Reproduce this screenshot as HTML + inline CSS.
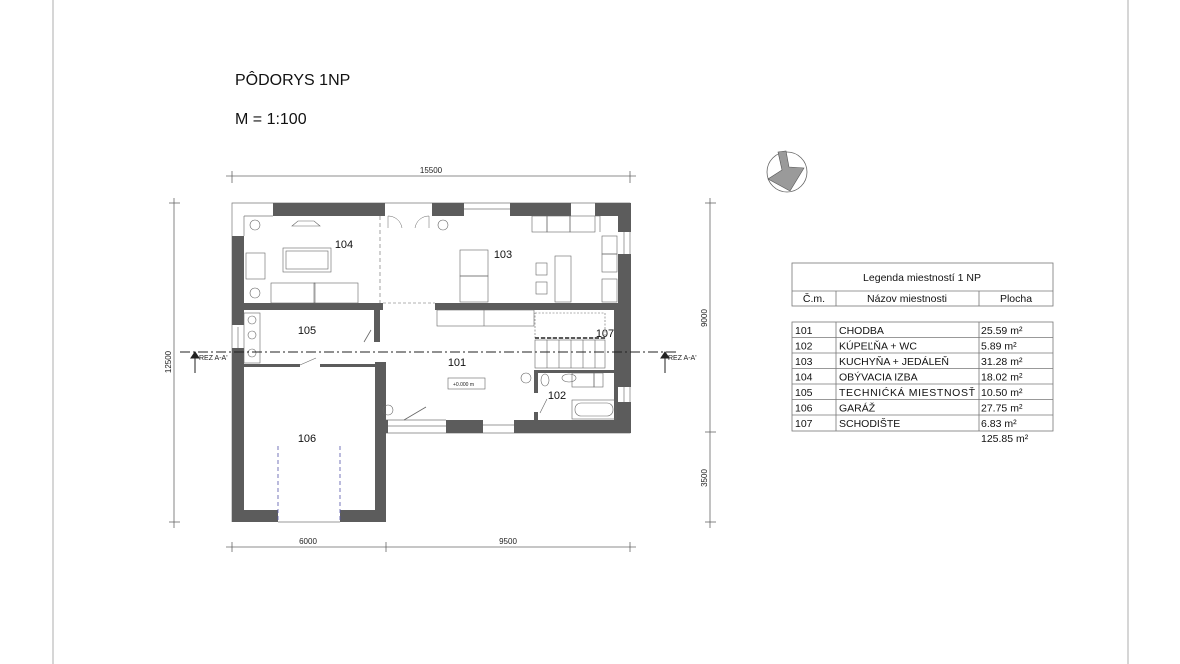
<!DOCTYPE html>
<html><head><meta charset="utf-8"><style>
html,body{margin:0;padding:0;background:#fff;}
svg{display:block;font-family:"Liberation Sans",sans-serif;}
</style></head><body>
<svg width="1180" height="664" viewBox="0 0 1180 664" xmlns="http://www.w3.org/2000/svg">
<rect width="1180" height="664" fill="#fff"/>
<line x1="53" y1="0" x2="53" y2="664" stroke="#bbb" stroke-width="1.2"/>
<line x1="1128" y1="0" x2="1128" y2="664" stroke="#bbb" stroke-width="1.2"/>
<text x="235" y="85" font-size="16" fill="#111">PÔDORYS 1NP</text>
<text x="235" y="124" font-size="16" fill="#111">M = 1:100</text>

<g stroke="#666" stroke-width="0.8" fill="none">
<line x1="226" y1="176" x2="636" y2="176"/>
<line x1="232" y1="171" x2="232" y2="183"/><line x1="630" y1="171" x2="630" y2="183"/>
<line x1="226" y1="547" x2="636" y2="547"/>
<line x1="232" y1="542" x2="232" y2="552"/><line x1="386" y1="542" x2="386" y2="552"/><line x1="630" y1="542" x2="630" y2="552"/>
<line x1="174" y1="198" x2="174" y2="528"/>
<line x1="169" y1="203" x2="180" y2="203"/><line x1="169" y1="522" x2="180" y2="522"/>
<line x1="710" y1="198" x2="710" y2="528"/>
<line x1="705" y1="203" x2="716" y2="203"/><line x1="705" y1="432" x2="716" y2="432"/><line x1="705" y1="522" x2="716" y2="522"/>
</g>
<g font-size="8" fill="#222">
<text x="431" y="173" text-anchor="middle">15500</text>
<text x="308" y="544" text-anchor="middle">6000</text>
<text x="508" y="544" text-anchor="middle">9500</text>
<text transform="translate(171,362) rotate(-90)" text-anchor="middle">12500</text>
<text transform="translate(707,318) rotate(-90)" text-anchor="middle">9000</text>
<text transform="translate(707,478) rotate(-90)" text-anchor="middle">3500</text>
</g>

<g stroke="#777" stroke-width="0.7" fill="none">
<path d="M232 522 L232 203 L630 203 L630 433 L386 433"/>
<line x1="244" y1="216" x2="244" y2="236"/><line x1="244" y1="216" x2="273" y2="216"/>
<line x1="278" y1="522" x2="340" y2="522"/>
<line x1="386" y1="420" x2="446" y2="420"/><line x1="386" y1="426" x2="446" y2="426"/>
<line x1="483" y1="425" x2="514" y2="425"/>
<line x1="464" y1="209" x2="510" y2="209"/>
<line x1="238" y1="327" x2="238" y2="348"/>
<line x1="624" y1="232" x2="624" y2="254"/><line x1="624" y1="387" x2="624" y2="402"/>
</g>

<g fill="#5c5c5c">
<rect x="273" y="203" width="112" height="13"/>
<rect x="432" y="203" width="32" height="13"/>
<rect x="510" y="203" width="61" height="13"/>
<rect x="595" y="203" width="36" height="13"/>
<rect x="618" y="203" width="13" height="29"/>
<rect x="618" y="254" width="13" height="133"/>
<rect x="618" y="402" width="13" height="31"/>
<rect x="232" y="236" width="12" height="89"/>
<rect x="232" y="348" width="12" height="174"/>
<rect x="446" y="420" width="37" height="13"/>
<rect x="514" y="420" width="117" height="13"/>
<rect x="375" y="362" width="11" height="160"/>
<rect x="375" y="420" width="13" height="13"/>
<rect x="232" y="510" width="46" height="12"/>
<rect x="340" y="510" width="46" height="12"/>
<rect x="244" y="303" width="139" height="7"/>
<rect x="435" y="303" width="183" height="7"/>
<rect x="374" y="310" width="6" height="32"/>
<rect x="244" y="364" width="56" height="3"/>
<rect x="320" y="364" width="60" height="3"/>
<rect x="534" y="370" width="84" height="3"/>
<rect x="534" y="370" width="4" height="23"/>
<rect x="534" y="412" width="4" height="8"/>
<rect x="614" y="310" width="4" height="110"/>
</g>

<g stroke="#666" stroke-width="0.6" fill="none">
<circle cx="255" cy="225" r="5"/><circle cx="255" cy="293" r="5"/><circle cx="443" cy="225" r="5"/><circle cx="526" cy="378" r="5"/><circle cx="388" cy="410" r="5"/>
<path d="M292 226 L298 221 L314 221 L320 226 Z"/>
<rect x="283" y="248" width="48" height="24"/><rect x="286" y="251" width="42" height="18"/>
<rect x="246" y="253" width="19" height="26"/>
<rect x="271" y="283" width="44" height="20"/><rect x="314" y="283" width="44" height="20"/>
<rect x="460" y="250" width="28" height="26"/><rect x="460" y="276" width="28" height="26"/>
<rect x="536" y="263" width="11" height="12"/><rect x="536" y="282" width="11" height="12"/>
<rect x="555" y="256" width="16" height="46"/>
<rect x="532" y="216" width="15" height="16"/><rect x="547" y="216" width="23" height="16"/><rect x="570" y="216" width="25" height="16"/>
<path d="M595 216 L600 216 L600 232"/>
<rect x="602" y="236" width="15" height="18"/><rect x="602" y="254" width="15" height="18"/><rect x="602" y="279" width="15" height="23"/>
<rect x="437" y="310" width="97" height="16"/><line x1="484" y1="310" x2="484" y2="326"/>
<rect x="244" y="313" width="16" height="50"/>
<circle cx="252" cy="320" r="4"/><circle cx="252" cy="335" r="4"/><circle cx="252" cy="353" r="4"/>
<path d="M388 216 L388 228 M388 216 A 14 14 0 0 1 402 228 M429 216 L429 228 M429 216 A 14 14 0 0 0 415 228" stroke-width="0.5"/>
<line x1="300" y1="365" x2="316" y2="358"/><line x1="364" y1="342" x2="371" y2="330" stroke-width="0.8"/>
<line x1="404" y1="420" x2="426" y2="407" stroke-width="0.8"/>
<line x1="540" y1="413" x2="547" y2="399"/>
<rect x="448" y="378" width="37" height="11"/>
<rect x="572" y="373" width="22" height="14"/><rect x="594" y="373" width="9" height="14"/>
<rect x="572" y="400" width="44" height="19"/><rect x="575" y="403" width="38" height="13" rx="6"/>
<ellipse cx="545" cy="380" rx="4" ry="6"/><ellipse cx="569" cy="378" rx="7" ry="4"/>
<line x1="380" y1="216" x2="380" y2="303" stroke-dasharray="4 3"/>
<line x1="383" y1="303" x2="435" y2="303" stroke-dasharray="3 2"/>
<rect x="535" y="313" width="70" height="25" stroke-dasharray="2 1.5"/>
<rect x="535" y="340" width="70" height="28"/>
<line x1="547" y1="340" x2="547" y2="368"/><line x1="559" y1="340" x2="559" y2="368"/><line x1="571" y1="340" x2="571" y2="368"/><line x1="583" y1="340" x2="583" y2="368"/><line x1="595" y1="340" x2="595" y2="368"/>
</g>
<line x1="535" y1="338" x2="606" y2="338" stroke="#222" stroke-width="1.5" stroke-dasharray="4 2"/>
<g stroke="#55a" stroke-width="0.8" stroke-dasharray="4 3">
<line x1="278" y1="446" x2="278" y2="522"/><line x1="340" y1="446" x2="340" y2="522"/>
</g>
<line x1="180" y1="352" x2="678" y2="352" stroke="#222" stroke-width="1" stroke-dasharray="10 3 2 3"/>
<g stroke="#222" stroke-width="1" fill="#222">
<line x1="195" y1="353" x2="195" y2="373"/><path d="M191 358 L195 352 L199 358 Z"/>
<line x1="665" y1="353" x2="665" y2="373"/><path d="M661 358 L665 352 L669 358 Z"/>
</g>
<g font-size="7" fill="#222"><text x="199" y="360">REZ A-A'</text><text x="668" y="360">REZ A-A'</text>
<text x="453" y="386" font-size="5">+0.000 m</text></g>

<g font-size="11" fill="#111" text-anchor="middle">
<text x="344" y="248">104</text><text x="503" y="258">103</text><text x="307" y="334">105</text>
<text x="605" y="337">107</text><text x="457" y="366">101</text><text x="557" y="399">102</text><text x="307" y="442">106</text>
</g>

<circle cx="787" cy="172" r="20" fill="#fff" stroke="#666" stroke-width="0.8"/>
<path d="M778 152 L786 151 L789 167 L804 168 L790 191 L768 179 L782 170 Z" fill="#9a9a9a" stroke="#555" stroke-width="0.6"/>

<g stroke="#777" stroke-width="0.8" fill="none">
<rect x="792" y="263" width="261" height="43"/>
<line x1="792" y1="291" x2="1053" y2="291"/>
<line x1="836" y1="291" x2="836" y2="306"/><line x1="979" y1="291" x2="979" y2="306"/>
<rect x="792" y="322" width="261" height="109"/>
<line x1="836" y1="322" x2="836" y2="431"/><line x1="979" y1="322" x2="979" y2="431"/>
<line x1="792" y1="337.5" x2="1053" y2="337.5"/><line x1="792" y1="353" x2="1053" y2="353"/>
<line x1="792" y1="368.5" x2="1053" y2="368.5"/><line x1="792" y1="384" x2="1053" y2="384"/>
<line x1="792" y1="399.5" x2="1053" y2="399.5"/><line x1="792" y1="415" x2="1053" y2="415"/>
</g>
<g font-size="10.5" fill="#111">
<text x="922" y="281" text-anchor="middle">Legenda miestností 1 NP</text>
<text x="814" y="302" text-anchor="middle">Č.m.</text>
<text x="907" y="302" text-anchor="middle">Názov miestnosti</text>
<text x="1016" y="302" text-anchor="middle">Plocha</text>
<text x="795" y="334">101</text><text x="839" y="334">CHODBA</text><text x="981" y="334">25.59 m²</text>
<text x="795" y="349.5">102</text><text x="839" y="349.5">KÚPEĽŇA + WC</text><text x="981" y="349.5">5.89 m²</text>
<text x="795" y="365">103</text><text x="839" y="365">KUCHYŇA + JEDÁLEŇ</text><text x="981" y="365">31.28 m²</text>
<text x="795" y="380.5">104</text><text x="839" y="380.5">OBÝVACIA IZBA</text><text x="981" y="380.5">18.02 m²</text>
<text x="795" y="396">105</text><text x="839" y="396" textLength="136">TECHNIĆKÁ MIESTNOSŤ</text><text x="981" y="396">10.50 m²</text>
<text x="795" y="411.5">106</text><text x="839" y="411.5">GARÁŽ</text><text x="981" y="411.5">27.75 m²</text>
<text x="795" y="427">107</text><text x="839" y="427">SCHODIŠTE</text><text x="981" y="427">6.83 m²</text>
<text x="981" y="442">125.85 m²</text>
</g>
</svg>
</body></html>
